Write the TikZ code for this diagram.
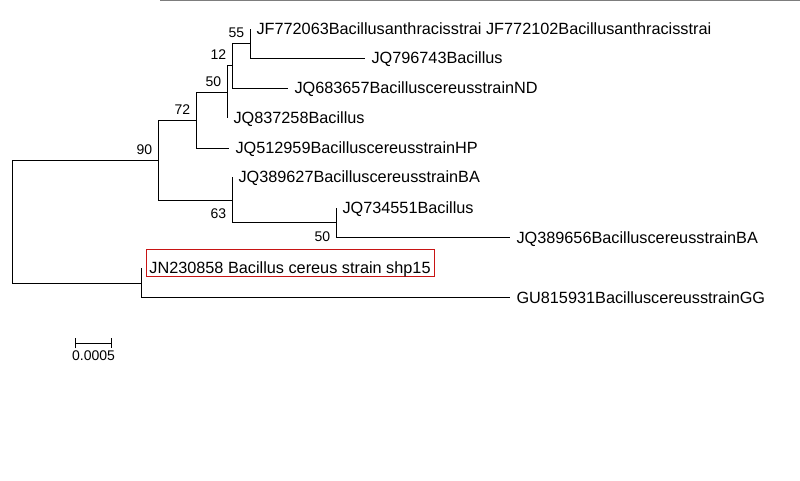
\documentclass[tikz,border=0pt]{standalone}
\usepackage{fontspec}
\setmainfont{Liberation Sans}
\usetikzlibrary{positioning,calc,arrows.meta}
\definecolor{boxred}{RGB}{200,20,20}
\definecolor{rulegray}{RGB}{125,125,125}
\tikzset{every picture/.style={line width=0.75pt}}
\tikzset{
	leaf/.style={inner xsep=4.5pt, inner ysep=0pt, text height=8.8pt, text depth=0pt, font=\fontsize{12.2}{14}\selectfont},
	boxed/.style={draw=boxred, line width=0.75pt, inner xsep=0pt, minimum width=216pt, text height=17.7pt, text depth=2.55pt},
	boot/.style={inner sep=4pt, text height=7.5pt, text depth=0pt, font=\fontsize{10.5}{12}\selectfont},
	scalelab/.style={inner xsep=0pt, inner ysep=5pt, text height=7.5pt, text depth=0pt, font=\fontsize{10.5}{12}\selectfont}
}

\begin{document}
\begin{tikzpicture}[x=0.75pt,y=0.75pt,yscale=-1,xscale=1]
					\useasboundingbox (0,0) rectangle (800,480);
					%Straight Lines
					\draw [color=rulegray, line width=1.2pt] (160,0.6) -- (800,0.6) ;
					
					% internal nodes
					\coordinate (r) at (12,221.7);
					\coordinate (n90) at (158,160.3);
					\coordinate (n72) at (196,120.3);
					\coordinate (n50a) at (227,92.7);
					\coordinate (n12) at (232,65.7);
					\coordinate (n55) at (250,43.5);
					\coordinate (n63) at (232,200.7);
					\coordinate (n50b) at (336,222.8);
					\coordinate (nJN) at (141,283.3);
					% tips
					\coordinate (t772) at (250,29);
					\coordinate (t796) at (365,58);
					\coordinate (t683) at (288,88);
					\coordinate (t837) at (227,118);
					\coordinate (t512) at (229,148);
					\coordinate (t627) at (232,177);
					\coordinate (t551) at (336,208);
					\coordinate (t656) at (510,237.7);
					\coordinate (t858) at (141,268.3);
					\coordinate (t931) at (510,297.7);
					
					%Straight Lines
					\draw (r) |- (n90) ;
					\draw (r) |- (nJN) ;
					\draw (n90) |- (n72) ;
					\draw (n90) |- (n63) ;
					\draw (n72) |- (n50a) ;
					\draw (n72) |- (t512) ;
					\draw (n50a) |- (n12) ;
					\draw (n50a) |- (t837) ;
					\draw (n12) |- (n55) ;
					\draw (n12) |- (t683) ;
					\draw (n55) |- (t772) ;
					\draw (n55) |- (t796) ;
					\draw (n63) |- (t627) ;
					\draw (n63) |- (n50b) ;
					\draw (n50b) |- (t551) ;
					\draw (n50b) |- (t656) ;
					\draw (nJN) |- (t858) ;
					\draw (nJN) |- (t931) ;
					
					% Text Node
					\node [leaf, right=0pt of t772] (l772) {JF772063Bacillusanthracisstrai JF772102Bacillusanthracisstrai};
					% Text Node
					\node [leaf, right=0pt of t796] (l796) {JQ796743Bacillus};
					% Text Node
					\node [leaf, right=0pt of t683] (l683) {JQ683657BacilluscereusstrainND};
					% Text Node
					\node [leaf, right=0pt of t837] (l837) {JQ837258Bacillus};
					% Text Node
					\node [leaf, right=0pt of t512] (l512) {JQ512959BacilluscereusstrainHP};
					% Text Node
					\node [leaf, right=0pt of t627] (l627) {JQ389627BacilluscereusstrainBA};
					% Text Node
					\node [leaf, right=0pt of t551] (l551) {JQ734551Bacillus};
					% Text Node
					\node [leaf, right=0pt of t656] (l656) {JQ389656BacilluscereusstrainBA};
					% Text Node
					\node [leaf, boxed, anchor=west] (l858) at ($(t858)+(4.5,-5.3)$) {JN230858 Bacillus cereus strain shp15};
					% Text Node
					\node [leaf, right=0pt of t931] (l931) {GU815931BacilluscereusstrainGG};
					
					% Text Node
					\node [boot, anchor=south east] (b90) at (n90) {90};
					% Text Node
					\node [boot, anchor=south east] (b72) at (n72) {72};
					% Text Node
					\node [boot, anchor=south east] (b50a) at (n50a) {50};
					% Text Node
					\node [boot, anchor=south east] (b12) at (n12) {12};
					% Text Node
					\node [boot, anchor=south east] (b55) at (n55) {55};
					% Text Node
					\node [boot, anchor=north east, inner ysep=5.5pt] (b63) at (n63) {63};
					% Text Node
					\node [boot, anchor=north east, inner ysep=6.5pt] (b50b) at (n50b) {50};
					
					% scale bar
					\coordinate (sb1) at (75,343.3);
					\coordinate (sb2) at (112,343.3);
					\coordinate (sbm) at ($(sb1)!0.5!(sb2)$);
					%Straight Lines
					\draw [{Bar[width=7.5pt]}-{Bar[width=7.5pt]}] (sb1) -- (sb2) ;
					% Text Node
					\node [scalelab, anchor=north] (sl) at (sbm) {0.0005};
				\end{tikzpicture}
\end{document}
